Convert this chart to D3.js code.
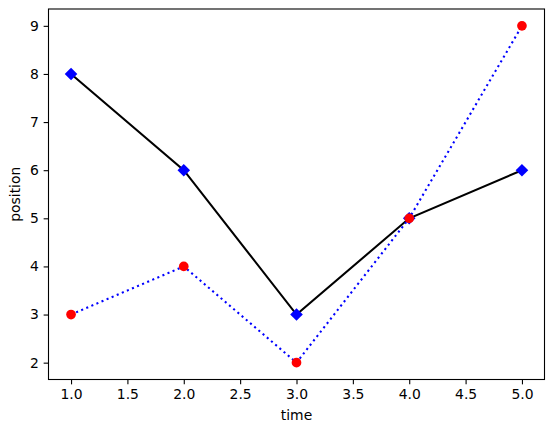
<!DOCTYPE html>
<html>
<head>
<meta charset="utf-8">
<script src="https://cdn.jsdelivr.net/npm/d3@7"></script>
<style>
  body { margin: 0; background: #fff; }
  svg { display: block; }
  text { font-family: "DejaVu Sans", sans-serif; }
</style>
</head>
<body>
<svg id="chart"></svg>
<script>
// data
var times = [1, 2, 3, 4, 5];
var seriesA = [8, 6, 3, 5, 6];   // black line, blue diamonds
var seriesB = [3, 4, 2, 5, 9];   // blue dotted, red dots
var xTicks = [1.0, 1.5, 2.0, 2.5, 3.0, 3.5, 4.0, 4.5, 5.0];
var yTicks = [2, 3, 4, 5, 6, 7, 8, 9];

var width = 554, height = 432;
var plotLeft = 48.5, plotRight = 544.5, plotTop = 9, plotBottom = 379.5;

var svg = d3.select("#chart").attr("width", width).attr("height", height);

var x = d3.scaleLinear().domain([0.8, 5.2]).range([plotLeft, plotRight]);
var y = d3.scaleLinear().domain([1.65, 9.35]).range([plotBottom, plotTop]);

var tickLen = 4.86, tickPad = 4.86;

var xAxis = svg.append("g")
    .attr("transform", "translate(0," + plotBottom + ")")
    .call(d3.axisBottom(x).tickValues(xTicks).tickFormat(d3.format(".1f"))
      .tickSize(tickLen).tickPadding(tickPad).tickSizeOuter(0));

var yAxis = svg.append("g")
    .attr("transform", "translate(" + plotLeft + ",0)")
    .call(d3.axisLeft(y).tickValues(yTicks).tickFormat(d3.format("d"))
      .tickSize(tickLen).tickPadding(tickPad).tickSizeOuter(0));

[xAxis, yAxis].forEach(function(g) {
  g.select(".domain").remove();
  g.selectAll("line").attr("stroke", "#000").attr("stroke-width", 1.1);
  g.selectAll("text").attr("fill", "#000").style("font-size", "13.9px")
   .style("font-family", "DejaVu Sans, sans-serif");
});

// frame
svg.append("rect")
    .attr("x", plotLeft).attr("y", plotTop)
    .attr("width", plotRight - plotLeft).attr("height", plotBottom - plotTop)
    .attr("fill", "none").attr("stroke", "#000").attr("stroke-width", 1.1);

var line = d3.line()
    .x(function(d, i) { return x(times[i]); })
    .y(function(d) { return y(d); });

// series A
svg.append("path")
    .datum(seriesA)
    .attr("d", line)
    .attr("fill", "none")
    .attr("stroke", "#000")
    .attr("stroke-width", 2.08);

var diamond = 6.3;
svg.selectAll(".diamond")
  .data(seriesA)
  .enter()
    .append("path")
    .classed("diamond", true)
    .attr("transform", function(d, i) { return "translate(" + x(times[i]) + "," + y(d) + ")"; })
    .attr("d", "M0," + (-diamond) + "L" + diamond + ",0L0," + diamond + "L" + (-diamond) + ",0Z")
    .attr("fill", "#0000ff");

// series B
svg.append("path")
    .datum(seriesB)
    .attr("d", line)
    .attr("fill", "none")
    .attr("stroke", "#0000ff")
    .attr("stroke-width", 2.08)
    .attr("stroke-dasharray", "2.08,3.44");

svg.selectAll(".dot")
  .data(seriesB)
  .enter()
    .append("circle")
    .classed("dot", true)
    .attr("cx", function(d, i) { return x(times[i]); })
    .attr("cy", function(d) { return y(d); })
    .attr("r", 4.85)
    .attr("fill", "#ff0000");

// axis labels
svg.append("text")
    .attr("x", (plotLeft + plotRight) / 2)
    .attr("y", 420)
    .attr("text-anchor", "middle")
    .style("font-size", "13.9px")
    .text("time");

svg.append("text")
    .attr("transform", "translate(20," + ((plotTop + plotBottom) / 2) + ") rotate(-90)")
    .attr("text-anchor", "middle")
    .style("font-size", "13.9px")
    .text("position");
</script>
</body>
</html>
